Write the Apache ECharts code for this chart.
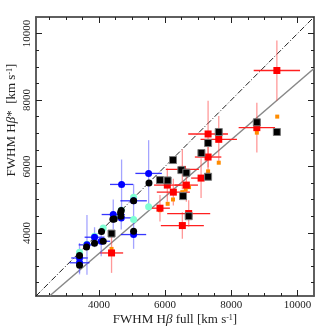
<!DOCTYPE html>
<html><head><meta charset="utf-8">
<script src="https://cdn.jsdelivr.net/npm/echarts@6/dist/echarts.min.js"></script>
<style>html,body{margin:0;padding:0;background:#fff}#c{width:332px;height:332px}</style>
</head><body><div id="c"></div>
<script>
// axis range and ticks
const axisMin = 2100, axisMax = 10500;
const majorTicks = [4000, 6000, 8000, 10000];
const minorTicks = [2500,3000,3500,4000,4500,5000,5500,6000,6500,7000,7500,8000,8500,9000,9500,10000];

// reference lines (endpoints)
const oneToOneLine = [[2100, 2100], [10500, 10500]];
const fitLine = [[2510, 2100], [10500, 8950]];

// blue circles with error bars: [x, y, xErr, yErr]
const blueX    = [3415, 3415, 3640, 3869, 4070, 4434, 4676, 4686, 5049, 5049, 5503];
const blueY    = [3245, 3100, 3640, 3870, 3748, 4553, 4452, 5459, 3950, 4966, 5791];
const blueXErr = [ 250,  300,  250,  300,  270,  350,  300,  350,  380,  400,  400];
const blueYErr = [ 450,  350,  900,  300,  450,  450,  350,  750,  430,  500, 1000];

// aquamarine circles
const cyanX = [3415, 3415, 3634, 3869, 4131, 4454, 4676, 5049, 5049, 5503];
const cyanY = [3416, 3100, 3660, 3899, 4151, 4483, 4684, 5076, 4402, 4785];

// black circles
const blackCircX = [3415, 3415, 3627, 3869, 4081, 4131, 4424, 4464, 4656, 4666, 4676, 5049, 5049, 5514];
const blackCircY = [3024, 3316, 3577, 3688, 4040, 3748, 4412, 4422, 4604, 4503, 4674, 4966, 4050, 5499];

// red squares with error bars
const redX    = [4383, 5846, 6068, 6250, 6522, 6522, 6643, 6714, 7088, 7300, 7300, 7622, 8773, 9378];
const redY    = [3396, 4744, 5439, 5227, 4221, 5911, 5439, 4583, 5650, 6978, 6284, 6817, 7169, 8889];
const redXErr = [ 350,  300,  400,  500,  650,  500,  350,  650,  300,  600,  400,  550,  550,  700];
const redYErr = [ 600,  400,  500,  400,  400,  600,  500,  400,  600, 1000,  500,  700,  750,  900];

// orange small squares
const orangeX = [4383, 5846, 6078, 6240, 6522, 6623, 6724, 7088, 7300, 7622, 8773, 9389];
const orangeY = [3517, 4684, 4875, 5006, 5227, 5308, 5378, 5680, 5851, 6113, 7018, 7501];

// black squares
const blackSqX = [4383, 5846, 6078, 6240, 6492, 6543, 6643, 6714, 7098, 7300, 7300, 7622, 8773, 9378];
const blackSqY = [3980, 5590, 5579, 6193, 5891, 5107, 5811, 4503, 6405, 6706, 5690, 7038, 7330, 7038];

const zip2 = (a, b) => a.map((v, i) => [v, b[i]]);
const zip4 = (a, b, c, d) => a.map((v, i) => [v, b[i], c[i], d[i]]);

const serif = 'Liberation Serif';

function axis(pos, ticks, len, showLabel, isY) {
  return {
    type: 'value', position: pos, min: axisMin, max: axisMax,
    axisLine: { show: true, onZero: false, lineStyle: { color: '#555', width: 1.5 } },
    axisTick: { show: true, inside: true, length: len, customValues: ticks, lineStyle: { color: '#222', width: 1 } },
    axisLabel: showLabel ? {
      show: true, customValues: majorTicks, fontFamily: serif, fontSize: 11, color: '#222',
      margin: isY ? 3 : 4, rotate: isY ? 90 : 0, formatter: v => String(v)
    } : { show: false },
    splitLine: { show: false }
  };
}

function errRender(mainColor, lightColor) {
  return function (params, api) {
    const x = api.value(0), y = api.value(1), ex = api.value(2), ey = api.value(3);
    const l = api.coord([x - ex, y]), r = api.coord([x + ex, y]);
    const t = api.coord([x, y + ey]), b = api.coord([x, y - ey]);
    return {
      type: 'group', children: [
        { type: 'line', shape: { x1: l[0], y1: l[1], x2: r[0], y2: r[1] }, style: { stroke: mainColor, lineWidth: 1.3 } },
        { type: 'line', shape: { x1: t[0], y1: t[1], x2: b[0], y2: b[1] }, style: { stroke: lightColor, lineWidth: 1.3 } }
      ]
    };
  };
}

const titleRich = {
  n: { fontFamily: serif, fontSize: 13, fill: '#222' },
  i: { fontFamily: serif, fontSize: 13, fontStyle: 'italic', fill: '#222' },
  s: { fontFamily: serif, fontSize: 8, fill: '#222', verticalAlign: 'top', padding: [0, 0, 5, 0] }
};

const chart = echarts.init(document.getElementById('c'), null, { renderer: 'canvas' });
chart.setOption({
  animation: false,
  backgroundColor: '#fff',
  grid: { left: 36, right: 18, top: 17, bottom: 36, containLabel: false, outerBoundsMode: 'none' },
  xAxis: [
    axis('bottom', majorTicks, 6, true, false),
    axis('bottom', minorTicks, 3, false, false),
    axis('top', majorTicks, 6, false, false),
    axis('top', minorTicks, 3, false, false)
  ],
  yAxis: [
    axis('left', majorTicks, 6, true, true),
    axis('left', minorTicks, 3, false, true),
    axis('right', majorTicks, 6, false, true),
    axis('right', minorTicks, 3, false, true)
  ],
  graphic: [
    {
      type: 'text', x: 175, y: 320,
      style: {
        text: '{n|FWHM H}{i|β}{n| full [km s}{s|-1}{n|]}',
        align: 'center', verticalAlign: 'middle', rich: titleRich
      }
    },
    {
      type: 'text', x: 12, y: 120, rotation: Math.PI / 2,
      style: {
        text: '{n|FWHM H}{i|β}{n|*  [km s}{s|-1}{n|]}',
        align: 'center', verticalAlign: 'middle', rich: titleRich
      }
    }
  ],
  series: [
    { type: 'line', data: oneToOneLine, symbol: 'none', silent: true, z: 1,
      lineStyle: { color: '#222', width: 1, type: [6, 2, 1, 2] } },
    { type: 'line', data: fitLine, symbol: 'none', silent: true, z: 1,
      lineStyle: { color: '#888', width: 1.5 } },
    { type: 'custom', renderItem: errRender('#ff2020', 'rgba(255,70,70,0.55)'), data: zip4(redX, redY, redXErr, redYErr),
      encode: { x: 0, y: 1 }, clip: true, z: 2 },
    { type: 'custom', renderItem: errRender('rgba(20,20,255,0.85)', 'rgba(90,90,255,0.55)'), data: zip4(blueX, blueY, blueXErr, blueYErr),
      encode: { x: 0, y: 1 }, clip: true, z: 2 },
    { type: 'scatter', data: zip2(cyanX, cyanY), symbol: 'circle', symbolSize: 7, z: 3,
      itemStyle: { color: '#7fffd4', opacity: 1 } },
    { type: 'scatter', data: zip2(blueX, blueY), symbol: 'circle', symbolSize: 7, z: 4,
      itemStyle: { color: '#0000ff', opacity: 1 } },
    { type: 'scatter', data: zip2(blackCircX, blackCircY), symbol: 'circle', symbolSize: 7, z: 5,
      itemStyle: { color: '#000', opacity: 1 } },
    { type: 'scatter', data: zip2(orangeX, orangeY), symbol: 'rect', symbolSize: 4, z: 5,
      itemStyle: { color: '#ff8c00', opacity: 1 } },
    { type: 'scatter', data: zip2(redX, redY), symbol: 'rect', symbolSize: 7, z: 6,
      itemStyle: { color: '#ff0000', opacity: 1 } },
    { type: 'scatter', data: zip2(blackSqX, blackSqY), symbol: 'rect', symbolSize: 7, z: 7,
      itemStyle: { color: '#000', borderColor: '#777', borderWidth: 1, opacity: 1 } }
  ]
});
</script></body></html>
